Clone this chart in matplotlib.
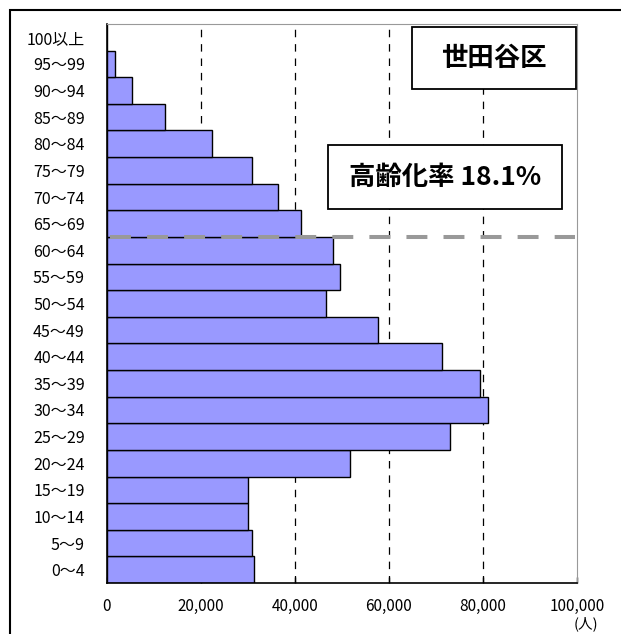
import matplotlib.pyplot as plt
from matplotlib.patches import Rectangle

plt.rcParams['font.family'] = ['Noto Sans CJK JP', 'DejaVu Sans']

ages = ["0～4", "5～9", "10～14", "15～19", "20～24", "25～29", "30～34",
        "35～39", "40～44", "45～49", "50～54", "55～59", "60～64", "65～69",
        "70～74", "75～79", "80～84", "85～89", "90～94", "95～99", "100以上"]
population = [31300, 30800, 29900, 30100, 51600, 72900, 81000,
              79400, 71300, 57600, 46500, 49500, 48000, 41200,
              36400, 30800, 22300, 12300, 5300, 1800, 0]
xticks = [0, 20000, 40000, 60000, 80000, 100000]
ward = "世田谷区"
aging_rate = "高齢化率 18.1%"

W, H = 621, 634
fig = plt.figure(figsize=(W / 100, H / 100), dpi=100)
ax = fig.add_axes([107 / W, 1 - 583 / H, 470 / W, 559 / H])

y = list(range(len(ages)))
ax.barh(y, population, height=1.0, color='#9999ff', edgecolor='black',
        linewidth=1.0, zorder=2)

# 65歳以上の境界
ax.axhline(12.5, xmin=0.007, xmax=0.995, color='#999999', linewidth=2.9,
           linestyle=(0, (5.2, 4.0)), zorder=3)

ax.set_xlim(0, 100000)
ax.set_ylim(-0.5, len(ages) - 0.5)
ax.set_xticks(xticks)
ax.set_xticklabels([f"{v:,}" for v in xticks], fontsize=11)
ax.set_yticks(y)
ax.set_yticklabels(ages, fontsize=11.5)
ax.tick_params(axis='x', direction='in', length=4, width=1, pad=11)
ax.tick_params(axis='y', length=0, pad=16)

for v in xticks[1:-1]:
    ax.axvline(v, color='black', linewidth=0.9, linestyle=(0, (6, 5.5)), zorder=1)

for side in ['top', 'right']:
    ax.spines[side].set_color('#999999')
for side in ['left', 'bottom']:
    ax.spines[side].set_color('black')
    ax.spines[side].set_linewidth(1.2)


def label_box(x0, y0, x1, y1, text):
    fig.patches.append(Rectangle((x0 / W, 1 - y1 / H), (x1 - x0) / W, (y1 - y0) / H,
                                 transform=fig.transFigure, facecolor='white',
                                 edgecolor='black', linewidth=1.3, zorder=5))
    fig.text((x0 + x1) / 2 / W, 1 - (y0 + y1) / 2 / H, text, fontsize=19,
             fontweight='bold', ha='center', va='center', zorder=6)


label_box(412, 27, 576, 89, ward)
label_box(328, 145, 562, 209, aging_rate)

fig.text(586 / W, 1 - 624 / H, "(人)", fontsize=10.5, ha='center', va='center')

# 外枠
fig.patches.append(Rectangle((10 / W, -0.1), 1.2, 1 - 10 / H + 0.1,
                             transform=fig.transFigure, fill=False,
                             edgecolor='black', linewidth=1.5))

fig.savefig("out.png", dpi=100)
